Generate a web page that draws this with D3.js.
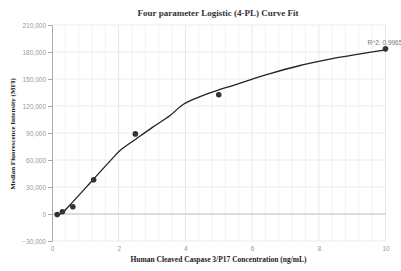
<!DOCTYPE html>
<html>
<head>
<meta charset="utf-8">
<script src="https://cdn.jsdelivr.net/npm/d3@7"></script>
<style>
  body { margin: 0; background: #fff; }
  #chart-area { width: 401px; height: 271px; overflow: hidden; }
</style>
</head>
<body>
<div id="chart-area"></div>
<script>
// measured standards
const concentrations = [0.156, 0.3125, 0.625, 1.25, 2.5, 5, 10];
const mfiValues = [-500, 2500, 8000, 38000, 89000, 132500, 183500];

// fitted curve
const curveX = [0.156, 0.3125, 0.625, 1.25, 1.8, 2.04, 2.5, 3.0, 3.54, 3.94, 4.44, 4.94, 5.44, 5.94, 6.54, 7.44, 8.04, 8.64, 9.24, 10];
const curveY = [-2000, 1500, 13500, 38900, 61300, 70500, 82800, 96000, 109400, 122000, 130500, 137200, 143000, 149100, 156000, 165000, 169800, 174200, 178000, 182400];

const yTicks = [-30000, 0, 30000, 60000, 90000, 120000, 150000, 180000, 210000];
const xTicks = [0, 2, 4, 6, 8, 10];
const rSquared = "R^2: 0.9965";

const config = {
    width: 401,
    height: 271,
    margin: { left: 52, right: 15.5, top: 25, bottom: 30 }
};
config.chartWidth = config.width - config.margin.left - config.margin.right;
config.chartHeight = config.height - config.margin.top - config.margin.bottom;

const svg = d3.select('#chart-area')
    .append('svg')
    .attr("width", config.width)
    .attr("height", config.height)
    .style("font-family", "Liberation Sans, Arial, sans-serif");

const g = svg.append('g')
    .attr("transform", `translate(${config.margin.left}, ${config.margin.top})`);

const xScale = d3.scaleLinear()
    .domain([0, 10])
    .range([0, config.chartWidth]);

const yScale = d3.scaleLinear()
    .domain([-30000, 210000])
    .range([config.chartHeight, 0]);

// grid: minor verticals every 0.4, majors every 2
const minorX = d3.range(0, 10.001, 0.4).filter(v => Math.abs(v / 2 - Math.round(v / 2)) > 0.01);
g.selectAll(".vminor").data(minorX).enter().append("line")
    .attr("x1", d => xScale(d)).attr("x2", d => xScale(d))
    .attr("y1", 0).attr("y2", config.chartHeight)
    .attr("stroke", "#f0f2f7").attr("stroke-width", 1);

g.selectAll(".vmajor").data(xTicks.slice(1)).enter().append("line")
    .attr("x1", d => xScale(d)).attr("x2", d => xScale(d))
    .attr("y1", 0).attr("y2", config.chartHeight)
    .attr("stroke", "#e3e7ef").attr("stroke-width", 1);

g.selectAll(".hgrid").data(yTicks).enter().append("line")
    .attr("x1", 0).attr("x2", config.chartWidth)
    .attr("y1", d => yScale(d)).attr("y2", d => yScale(d))
    .attr("stroke", d => d === 0 ? "#d0d0d0" : "#e8ebf2")
    .attr("stroke-width", d => d === 0 ? 1.5 : 1);

// y axis
const yAxisGroup = g.append('g')
    .call(d3.axisLeft(yScale).tickValues(yTicks).tickSize(4).tickPadding(2)
        .tickFormat(d3.format(",")));
yAxisGroup.select(".domain").attr("stroke", "#aaa");
yAxisGroup.selectAll(".tick line").attr("stroke", "#aaa");
yAxisGroup.selectAll("text")
    .style("fill", "#999")
    .style("font-size", "6.5px")
    .style("font-family", "Liberation Sans, Arial, sans-serif");

// x axis labels
const xAxisGroup = g.append('g')
    .attr('transform', `translate(0, ${config.chartHeight})`)
    .call(d3.axisBottom(xScale).tickValues(xTicks).tickSize(0).tickPadding(5));
xAxisGroup.select(".domain").remove();
xAxisGroup.selectAll("text")
    .style("fill", "#999")
    .style("font-size", "6.5px")
    .style("font-family", "Liberation Sans, Arial, sans-serif");

// fitted curve
const line = d3.line()
    .x((d, i) => xScale(curveX[i]))
    .y((d, i) => yScale(curveY[i]))
    .curve(d3.curveCatmullRom);

g.append("path")
    .datum(curveY)
    .attr("d", line)
    .attr("fill", "none")
    .attr("stroke", "#222")
    .attr("stroke-width", 1.3);

// points
g.selectAll("circle").data(concentrations).enter().append("circle")
    .attr("cx", d => xScale(d))
    .attr("cy", (d, i) => yScale(mfiValues[i]))
    .attr("r", 2.8)
    .attr("fill", "#333");

g.append("text")
    .attr("x", xScale(10) - 18)
    .attr("y", yScale(mfiValues[6]) - 4)
    .style("font-size", "6.5px")
    .style("fill", "#777")
    .text(rSquared);

// title and axis labels
svg.append("text")
    .attr("x", 218)
    .attr("y", 16)
    .attr("text-anchor", "middle")
    .style("font-family", "Liberation Serif, Times New Roman, serif")
    .style("font-weight", "bold")
    .style("font-size", "9px")
    .style("fill", "#333")
    .text("Four parameter Logistic (4-PL) Curve Fit");

svg.append("text")
    .attr("x", 218.5)
    .attr("y", 262)
    .attr("text-anchor", "middle")
    .style("font-family", "Liberation Serif, Times New Roman, serif")
    .style("font-weight", "bold")
    .style("font-size", "7.5px")
    .style("fill", "#222")
    .text("Human Cleaved Caspase 3/P17 Concentration (ng/mL)");

svg.append("text")
    .attr("transform", "translate(15, 134) rotate(-90)")
    .attr("text-anchor", "middle")
    .style("font-family", "Liberation Serif, Times New Roman, serif")
    .style("font-weight", "bold")
    .style("font-size", "7px")
    .style("fill", "#222")
    .text("Median Fluorescence Intensity (MFI)");
</script>
</body>
</html>
